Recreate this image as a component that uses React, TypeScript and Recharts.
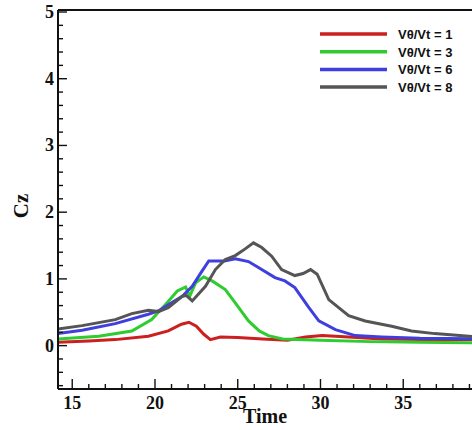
import React from 'react';
import { LineChart, Line, XAxis, YAxis, ReferenceLine } from 'recharts';

// Cz vs time for four swirl ratios
const redT = [14.14, 16, 17.6, 19.6, 20.8, 21.6, 22.05, 22.5, 22.95, 23.35, 23.95, 25, 26.5, 28, 29.1, 30.1, 31.7, 33.7, 36, 40];
const redV = [0.05, 0.07, 0.09, 0.14, 0.22, 0.32, 0.35, 0.29, 0.17, 0.09, 0.13, 0.12, 0.1, 0.08, 0.13, 0.15, 0.13, 0.1, 0.09, 0.09];

const greenT = [14.14, 16.6, 18.6, 19.8, 20.65, 21.35, 21.85, 22.1, 22.45, 22.95, 23.45, 24.25, 24.85, 25.65, 26.3, 26.85, 27.7, 30, 33, 36, 40];
const greenV = [0.1, 0.14, 0.22, 0.39, 0.62, 0.82, 0.88, 0.74, 0.94, 1.03, 0.97, 0.84, 0.64, 0.37, 0.22, 0.15, 0.1, 0.08, 0.06, 0.05, 0.04];

const blueT = [14.14, 15.6, 17.6, 19.6, 20.2, 20.85, 21.65, 22.25, 22.85, 23.25, 24.2, 24.85, 25.65, 26.25, 27.25, 27.85, 28.45, 29.3, 29.9, 30.9, 32.1, 33.7, 36, 40];
const blueV = [0.18, 0.23, 0.33, 0.47, 0.52, 0.62, 0.74, 0.89, 1.12, 1.27, 1.27, 1.3, 1.26, 1.17, 1.02, 0.97, 0.87, 0.57, 0.37, 0.24, 0.15, 0.13, 0.11, 0.1];

const grayT = [14.14, 15.6, 17.6, 18.6, 19.6, 20.2, 20.8, 21.65, 21.9, 22.25, 23.05, 23.65, 24.25, 24.85, 25.45, 25.95, 26.45, 27.05, 27.65, 28.45, 28.95, 29.4, 29.8, 30.5, 31.7, 32.7, 34.3, 35.5, 36.9, 40];
const grayV = [0.25, 0.3, 0.39, 0.48, 0.53, 0.51, 0.57, 0.74, 0.75, 0.67, 0.89, 1.14, 1.29, 1.35, 1.45, 1.54, 1.47, 1.34, 1.14, 1.05, 1.08, 1.14, 1.07, 0.69, 0.45, 0.37, 0.29, 0.22, 0.18, 0.12];

const seriesNames = ['Vθ/Vt = 1', 'Vθ/Vt = 3', 'Vθ/Vt = 6', 'Vθ/Vt = 8'];

const xMajor = [15, 20, 25, 30, 35];
const xMinor = [16, 17, 18, 19, 21, 22, 23, 24, 26, 27, 28, 29, 31, 32, 33, 34, 36, 37, 38, 39];
const yMajor = [0, 1, 2, 3, 4, 5];
const yMinor = [-0.6, -0.4, -0.2, 0.2, 0.4, 0.6, 0.8, 1.2, 1.4, 1.6, 1.8, 2.2, 2.4, 2.6, 2.8, 3.2, 3.4, 3.6, 3.8, 4.2, 4.4, 4.6, 4.8];

const X_DOMAIN: [number, number] = [14.14, 40];
const Y_DOMAIN: [number, number] = [-0.65, 5.03];

const zip = (t: number[], v: number[]) => t.map((x, i) => ({ t: x, v: v[i] }));

const series = [
  { name: seriesNames[0], color: '#cc1f1f', data: zip(redT, redV) },
  { name: seriesNames[1], color: '#2ecc2e', data: zip(greenT, greenV) },
  { name: seriesNames[2], color: '#3f3fdf', data: zip(blueT, blueV) },
  { name: seriesNames[3], color: '#555555', data: zip(grayT, grayV) },
];

const PLOT_LEFT = 58;
const PLOT_BOTTOM = 389;
const serif = '"Liberation Serif", "Times New Roman", serif';

const YTick = (props: any) => {
  const { y, payload } = props;
  const major = yMajor.includes(payload.value);
  return (
    <g>
      <line x1={PLOT_LEFT} x2={PLOT_LEFT + (major ? 9 : 5)} y1={y} y2={y} stroke="#111" strokeWidth={1.4} />
      {major && (
        <text x={PLOT_LEFT - 4} y={y} dy={6} textAnchor="end" fontFamily={serif} fontWeight="bold" fontSize={18} fill="#111">
          {payload.value}
        </text>
      )}
    </g>
  );
};

const XTick = (props: any) => {
  const { x, payload } = props;
  const major = xMajor.includes(payload.value);
  return (
    <g>
      <line x1={x} x2={x} y1={PLOT_BOTTOM} y2={PLOT_BOTTOM - (major ? 10 : 5)} stroke="#111" strokeWidth={1.4} />
      {major && (
        <text x={x} y={409} textAnchor="middle" fontFamily={serif} fontWeight="bold" fontSize={18} fill="#111">
          {payload.value}
        </text>
      )}
    </g>
  );
};

export default function App() {
  return (
    <div style={{ position: 'absolute', left: 0, top: 0, width: 472, height: 430, overflow: 'hidden', background: '#fff' }}>
      <LineChart width={500} height={430} margin={{ top: 10, right: 14, bottom: 0, left: 0 }}>
        <XAxis
          dataKey="t"
          type="number"
          domain={X_DOMAIN}
          allowDataOverflow
          ticks={[...xMajor, ...xMinor].sort((a, b) => a - b)}
          interval={0}
          height={41}
          tickLine={false}
          axisLine={{ stroke: '#111', strokeWidth: 2 }}
          tick={<XTick />}
        />
        <YAxis
          type="number"
          domain={Y_DOMAIN}
          allowDataOverflow
          ticks={[...yMajor, ...yMinor].sort((a, b) => a - b)}
          interval={0}
          width={58}
          tickLine={false}
          axisLine={{ stroke: '#111', strokeWidth: 2 }}
          tick={<YTick />}
        />
        <ReferenceLine y={Y_DOMAIN[1]} stroke="#111" strokeWidth={2} />
        {series.map(s => (
          <Line
            key={s.name}
            data={s.data}
            dataKey="v"
            type="linear"
            stroke={s.color}
            strokeWidth={3}
            dot={false}
            isAnimationActive={false}
          />
        ))}
      </LineChart>

      {/* axis titles */}
      <div style={{ position: 'absolute', left: 7, top: 192, width: 28, height: 28, fontFamily: serif, fontWeight: 'bold', fontSize: 21, color: '#111', transform: 'rotate(-90deg)', lineHeight: '28px', textAlign: 'center' }}>
        Cz
      </div>
      <div style={{ position: 'absolute', left: 225, top: 404, width: 80, textAlign: 'center', fontFamily: serif, fontWeight: 'bold', fontSize: 20, color: '#111', lineHeight: '24px' }}>
        Time
      </div>

      {/* legend */}
      <svg style={{ position: 'absolute', left: 300, top: 20 }} width={172} height={80}>
        {series.map((s, i) => (
          <g key={s.name}>
            <line x1={20} x2={87} y1={14 + i * 17.7} y2={14 + i * 17.7} stroke={s.color} strokeWidth={3.5} />
            <text x={98} y={14 + i * 17.7} dy={5} fontFamily='"Liberation Sans", Arial, sans-serif' fontWeight="bold" fontSize={13} fill="#111">
              {s.name}
            </text>
          </g>
        ))}
      </svg>
    </div>
  );
}
